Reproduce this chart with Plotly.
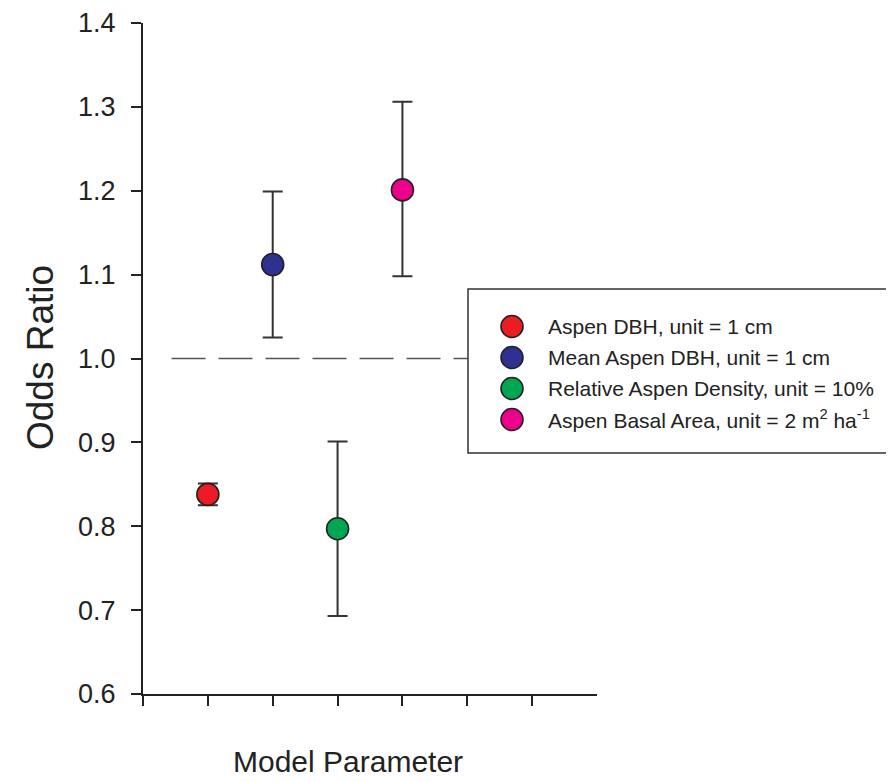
import plotly.graph_objects as go

# ---- data ----
labels = ["Aspen DBH, unit = 1 cm",
          "Mean Aspen DBH, unit = 1 cm",
          "Relative Aspen Density, unit = 10%",
          "Aspen Basal Area, unit = 2 m<sup>2</sup> ha<sup>-1</sup>"]
x_pos = [1, 2, 3, 4]
odds = [0.838, 1.112, 0.797, 1.201]
upper = [0.851, 1.199, 0.901, 1.306]
lower = [0.825, 1.025, 0.693, 1.098]
colors = ["#ED1C24", "#2E3192", "#00A651", "#EC008C"]
y_ticks = [0.6, 0.7, 0.8, 0.9, 1.0, 1.1, 1.2, 1.3, 1.4]
x_ticks = [0, 1, 2, 3, 4, 5, 6]
ref_line = 1.0

# the page body adds an 8px offset; size the figure so it fits the window
OFF = 8
W, H = 894 - OFF, 782 - OFF
ML = 143 - OFF
MT = 23 - OFF
MR = W - (597 - OFF)
MB = H - (694 - OFF)
PW = W - ML - MR
PH = H - MT - MB


def px(xp):
    """reference-picture x pixel -> paper coordinate"""
    return (xp - OFF - ML) / PW


def py(yp):
    """reference-picture y pixel -> paper coordinate"""
    return (H - MB - (yp - OFF)) / PH


FONT = "Arial, Liberation Sans, Helvetica, sans-serif"
INK = "#222222"

fig = go.Figure()
for i in range(len(x_pos)):
    fig.add_trace(go.Scatter(
        x=[x_pos[i]], y=[odds[i]], mode="markers", name=labels[i],
        marker=dict(color=colors[i], size=22, line=dict(color=INK, width=1.6)),
        error_y=dict(type="data", symmetric=False,
                     array=[upper[i] - odds[i]], arrayminus=[odds[i] - lower[i]],
                     color="#333333", thickness=2, width=10),
        showlegend=False, cliponaxis=False,
    ))

shapes = [
    dict(type="line", xref="x", yref="y", x0=0.44, x1=7, y0=ref_line, y1=ref_line,
         line=dict(color="#555555", width=1.4, dash="34px,13px"), layer="below"),
    dict(type="rect", xref="paper", yref="paper",
         x0=px(468), x1=px(893), y0=py(453), y1=py(289),
         fillcolor="white", line=dict(color="#333333", width=1.5), layer="above"),
]
annotations = []
row_y = [326.5, 357.5, 388.5, 419.5]
for i in range(len(labels)):
    cy = py(row_y[i])
    shapes.append(dict(type="circle", xref="paper", yref="paper",
                       xsizemode="pixel", ysizemode="pixel",
                       xanchor=px(512), yanchor=cy,
                       x0=-11, x1=11, y0=-11, y1=11,
                       fillcolor=colors[i], line=dict(color=INK, width=1.6),
                       layer="above"))
    annotations.append(dict(xref="paper", yref="paper", x=px(546), y=cy,
                            xanchor="left", yanchor="middle", showarrow=False,
                            text=labels[i], font=dict(family=FONT, size=21, color=INK)))

annotations.append(dict(xref="paper", yref="paper", x=px(348), y=py(761),
                        xanchor="center", yanchor="middle", showarrow=False,
                        text="Model Parameter", font=dict(family=FONT, size=30, color=INK)))
annotations.append(dict(xref="paper", yref="paper", x=px(40), y=py(358),
                        xanchor="center", yanchor="middle", showarrow=False, textangle=-90,
                        text="Odds Ratio", font=dict(family=FONT, size=37, color=INK)))

fig.update_layout(
    width=W, height=H,
    margin=dict(l=ML, r=MR, t=MT, b=MB, pad=0, autoexpand=False),
    paper_bgcolor="white", plot_bgcolor="white",
    showlegend=False,
    shapes=shapes, annotations=annotations,
    xaxis=dict(range=[0, 7], tickvals=x_ticks, showticklabels=False,
               ticks="outside", ticklen=10, tickwidth=2, tickcolor=INK,
               showline=True, linewidth=2, linecolor=INK, showgrid=False,
               zeroline=False, automargin=False),
    yaxis=dict(range=[0.6, 1.4], tickvals=y_ticks,
               ticktext=[f"{v:.1f}" for v in y_ticks],
               ticks="outside", ticklen=10, tickwidth=2, tickcolor=INK,
               showline=True, linewidth=2, linecolor=INK, showgrid=False,
               zeroline=False, ticklabelstandoff=10, automargin=False,
               ticklabeloverflow="allow",
               tickfont=dict(family=FONT, size=27, color=INK)),
)

fig.write_html("out.html")
